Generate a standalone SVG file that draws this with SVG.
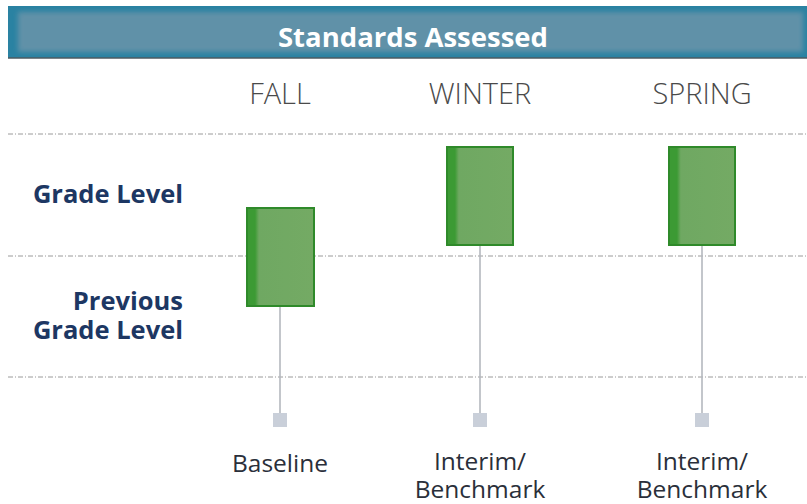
<svg xmlns="http://www.w3.org/2000/svg" width="807" height="504" viewBox="0 0 807 504">
  <defs>
    <filter id="soft" x="-5%" y="-20%" width="110%" height="140%">
      <feGaussianBlur stdDeviation="2.5"/>
    </filter>
    <linearGradient id="barFill" x1="0" y1="0" x2="1" y2="0">
      <stop offset="0" stop-color="#3c9a34"/>
      <stop offset="0.12" stop-color="#3c9a34"/>
      <stop offset="0.18" stop-color="#6fa862"/>
      <stop offset="1" stop-color="#74aa64"/>
    </linearGradient>
  </defs>
  <style>
    .grid { stroke: #9a9a9a; stroke-width: 1; stroke-dasharray: 5 2 1 2; fill: none; }
    .stem { stroke: #b4b8be; stroke-width: 1.6; fill: none; }
    .bar { fill: url(#barFill); stroke: #2f8a2a; stroke-width: 2; }
    .mark { fill: #c9cfd9; }
    .season { font-family: "Open Sans", "Liberation Sans", sans-serif; font-weight: 300; font-size: 29px; fill: #4a4a4a; text-anchor: middle; }
    .row { font-family: "Open Sans", "Liberation Sans", sans-serif; font-weight: 700; font-size: 25.5px; fill: #1d3763; text-anchor: end; }
    .cap { font-family: "Open Sans", "Liberation Sans", sans-serif; font-size: 24.5px; fill: #2a2f3a; text-anchor: middle; }
    .title { font-family: "Open Sans", "Liberation Sans", sans-serif; font-weight: 700; font-size: 27.5px; fill: #ffffff; text-anchor: middle; }
  </style>

  <rect width="807" height="504" fill="#ffffff"/>

  <!-- header band -->
  <g id="header">
    <rect x="8" y="6" width="799" height="52" fill="#2a82a2"/>
    <rect x="18" y="12" width="785" height="40" fill="#7898ab" opacity="0.7" filter="url(#soft)"/>
    <line x1="8" y1="58" x2="807" y2="58" stroke="#4d5a60" stroke-width="1.5"/>
    <text class="title" x="413" y="47">Standards Assessed</text>
  </g>

  <!-- level separators -->
  <g id="gridlines">
    <line class="grid" x1="8" y1="134" x2="807" y2="134"/>
    <line class="grid" x1="8" y1="256" x2="807" y2="256"/>
    <line class="grid" x1="8" y1="377" x2="807" y2="377"/>
  </g>

  <!-- season headings -->
  <g id="season-fall"><text class="season" x="280" y="104">FALL</text></g>
  <g id="season-winter"><text class="season" x="480" y="104">WINTER</text></g>
  <g id="season-spring"><text class="season" x="702" y="104">SPRING</text></g>

  <!-- row labels -->
  <g id="row-grade"><text class="row" x="183" y="203">Grade Level</text></g>
  <g id="row-previous">
    <text class="row" x="183" y="310">Previous</text>
    <text class="row" x="183" y="339">Grade Level</text>
  </g>

  <!-- stems from bars to assessment markers -->
  <g id="connectors">
    <line class="stem" x1="280" y1="306" x2="280" y2="413"/>
    <line class="stem" x1="480" y1="245" x2="480" y2="413"/>
    <line class="stem" x1="702" y1="245" x2="702" y2="413"/>
  </g>

  <!-- bars -->
  <g id="bar-fall"><rect class="bar" x="247" y="208" width="67" height="98"/></g>
  <g id="bar-winter"><rect class="bar" x="447" y="147" width="66" height="98"/></g>
  <g id="bar-spring"><rect class="bar" x="669" y="147" width="66" height="98"/></g>

  <!-- assessment markers -->
  <g id="mark-fall"><rect class="mark" x="273" y="413" width="14" height="14"/></g>
  <g id="mark-winter"><rect class="mark" x="473" y="413" width="14" height="14"/></g>
  <g id="mark-spring"><rect class="mark" x="695" y="413" width="14" height="14"/></g>

  <!-- assessment captions -->
  <g id="cap-fall"><text class="cap" x="280" y="472">Baseline</text></g>
  <g id="cap-winter">
    <text class="cap" x="480" y="470">Interim/</text>
    <text class="cap" x="480" y="498">Benchmark</text>
  </g>
  <g id="cap-spring">
    <text class="cap" x="702" y="470">Interim/</text>
    <text class="cap" x="702" y="498">Benchmark</text>
  </g>
</svg>
